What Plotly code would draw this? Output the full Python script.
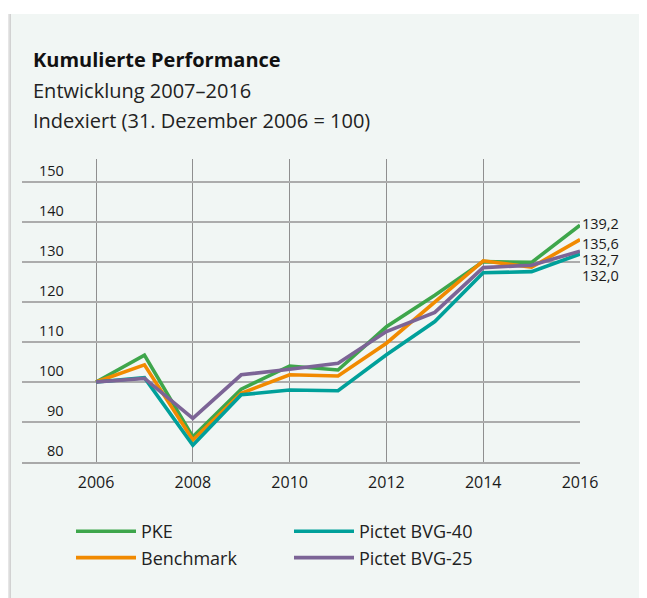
import plotly.graph_objects as go

years = [2006, 2007, 2008, 2009, 2010, 2011, 2012, 2013, 2014, 2015, 2016]
pke = [100.0, 106.7, 86.3, 98.2, 104.0, 103.0, 113.8, 121.7, 130.1, 129.9, 139.2]
benchmark = [100.0, 104.3, 85.5, 97.2, 101.8, 101.5, 109.7, 120.0, 130.3, 128.7, 135.6]
bvg40 = [100.0, 101.1, 84.2, 96.8, 98.0, 97.8, 106.8, 115.1, 127.3, 127.6, 132.0]
bvg25 = [100.0, 100.9, 90.9, 101.8, 103.2, 104.7, 112.6, 117.4, 128.6, 129.2, 132.7]

series_names = ["PKE", "Benchmark", "Pictet BVG-40", "Pictet BVG-25"]
series_values = [pke, benchmark, bvg40, bvg25]
series_colors = ["#3ea64b", "#f18a00", "#00a09a", "#7c6496"]
legend_ranks = [1, 3, 2, 4]
end_label_yshift = [2, -4, -21, -8]

y_ticks = [80, 90, 100, 110, 120, 130, 140, 150]
x_ticks = [2006, 2008, 2010, 2012, 2014, 2016]

title = "<b>Kumulierte Performance</b>"
subtitle1 = "Entwicklung 2007–2016"
subtitle2 = "Indexiert (31. Dezember 2006 = 100)"

FONT = "Open Sans"
OFF = 8                      # default page body margin
SW, SH = 647, 598            # screen size
W, H = SW - OFF, SH - OFF    # figure size
L, R, T, B = 22, 580, 159, 462   # plot area in screen pixels
px = lambda x: (x - L) / (R - L)
py = lambda y: (B - y) / (B - T)

fig = go.Figure()
for name, vals, col, rk in zip(series_names, series_values, series_colors, legend_ranks):
    fig.add_trace(go.Scatter(x=years, y=vals, name=name, mode="lines",
                             line=dict(color=col, width=3.6), legendrank=rk,
                             cliponaxis=False))

annotations = []
for name, vals, col, ys in zip(series_names, series_values, series_colors, end_label_yshift):
    annotations.append(dict(x=years[-1], y=vals[-1], xref="x", yref="y",
                            text=f"{vals[-1]:.1f}".replace(".", ","),
                            showarrow=False, xanchor="left", yanchor="middle",
                            xshift=0, yshift=ys,
                            font=dict(family=FONT, size=14.5, color="#1a1a1a")))
for v in y_ticks:
    annotations.append(dict(x=px(66), y=v, xref="paper", yref="y", text=str(v),
                            showarrow=False, xanchor="right", yanchor="middle",
                            yshift=12, font=dict(family=FONT, size=14.5, color="#1a1a1a")))
annotations += [
    dict(x=px(31), y=py(60), xref="paper", yref="paper", text=title, showarrow=False,
         xanchor="left", yanchor="middle", font=dict(family=FONT, size=20, color="#111")),
    dict(x=px(31), y=py(90), xref="paper", yref="paper", text=subtitle1, showarrow=False,
         xanchor="left", yanchor="middle", font=dict(family=FONT, size=20, color="#222")),
    dict(x=px(31), y=py(120), xref="paper", yref="paper", text=subtitle2, showarrow=False,
         xanchor="left", yanchor="middle", font=dict(family=FONT, size=20, color="#222")),
]

shapes = [
    dict(type="rect", xref="paper", yref="paper", x0=px(11), x1=px(SW + 5), y0=py(14), y1=py(SH + 5),
         fillcolor="#f1f6f4", line=dict(width=0), layer="below"),
]
shadow = ["#fbfbfb", "#f6f6f6", "#efefef", "#e6e6e6", "#dcdcdc", "#d2d2d2"]
for i, c in enumerate(shadow):
    shapes.append(dict(type="rect", xref="paper", yref="paper", x0=px(5 + i), x1=px(6 + i),
                       y0=py(14), y1=py(SH + 5), fillcolor=c, line=dict(width=0), layer="below"))

fig.update_layout(
    width=W, height=H,
    margin=dict(l=L - OFF, r=SW - R, t=T - OFF, b=SH - B, autoexpand=False),
    paper_bgcolor="white", plot_bgcolor="rgba(0,0,0,0)",
    showlegend=True,
    legend=dict(orientation="h", xref="container", yref="container",
                x=63 / W, y=1 - 505 / H, xanchor="left", yanchor="top",
                entrywidth=143, entrywidthmode="pixels", itemwidth=60,
                font=dict(family=FONT, size=18, color="#222"), bgcolor="rgba(0,0,0,0)",
                tracegroupgap=0),
    xaxis=dict(range=[2004.47, 2016], tickvals=x_ticks, showgrid=True, gridcolor="#8f8f8f",
               gridwidth=1.2, zeroline=False, showline=True, linecolor="#a9a9a9", linewidth=2,
               ticks="outside", ticklen=5, tickcolor="rgba(0,0,0,0)",
               tickfont=dict(family=FONT, size=16, color="#1a1a1a")),
    yaxis=dict(range=[80, 155.75], tickvals=y_ticks, showticklabels=False, showgrid=True,
               gridcolor="#acacac", gridwidth=1.5, zeroline=False),
    annotations=annotations, shapes=shapes,
)
fig.write_html("out.html")
